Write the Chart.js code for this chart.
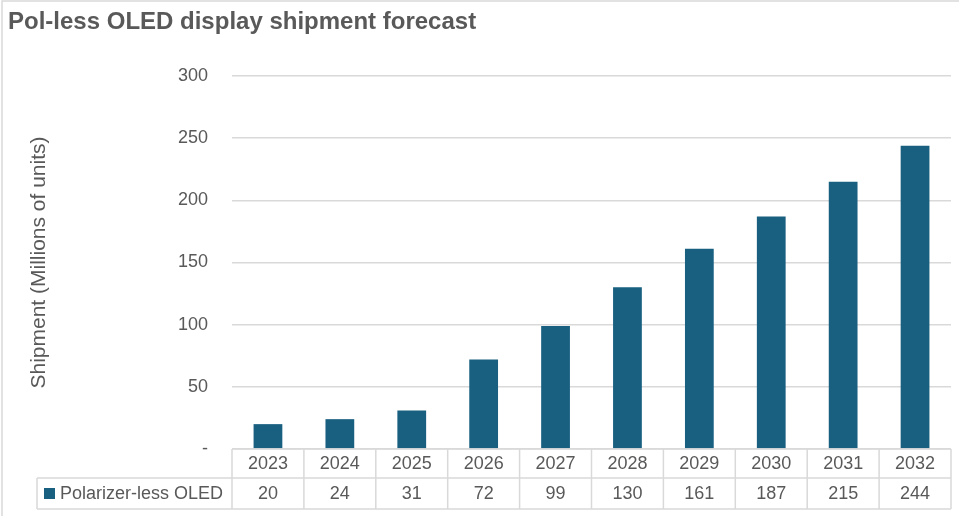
<!DOCTYPE html>
<html>
<head>
<meta charset="utf-8">
<title>Pol-less OLED display shipment forecast</title>
<script src="https://cdn.jsdelivr.net/npm/chart.js@4"></script>
<style>
  html, body { margin: 0; padding: 0; background: #fff; }
  canvas { display: block; }
</style>
</head>
<body>
<canvas id="chart" width="959" height="516"></canvas>
<script>
const years = ["2023", "2024", "2025", "2026", "2027", "2028", "2029", "2030", "2031", "2032"];
const shipments = [20, 24, 31, 72, 99, 130, 161, 187, 215, 244];
const yTicks = [0, 50, 100, 150, 200, 250, 300];

const seriesName = "Polarizer-less OLED";
const barColor = "#185f80";
const textColor = "#595959";
const lineColor = "#d9d9d9";
const fontFamily = "'Liberation Sans', Arial, sans-serif";

// title, frame and data table under the plot
const tablePlugin = {
  id: "tablePlugin",
  beforeDraw(chart) {
    const ctx = chart.ctx;
    ctx.save();
    ctx.fillStyle = "#fff";
    ctx.fillRect(0, 0, chart.width, chart.height);
    ctx.strokeStyle = lineColor;
    ctx.lineWidth = 1.5;
    ctx.beginPath();
    ctx.moveTo(2, chart.height);
    ctx.lineTo(2, 1);
    ctx.lineTo(chart.width, 1);
    ctx.stroke();
    ctx.restore();
  },
  afterDraw(chart) {
    const ctx = chart.ctx;
    const area = chart.chartArea;
    const x = chart.scales.x;
    const cell = (area.right - area.left) / years.length;
    const rowTop = area.bottom;
    const rowMid = rowTop + 29;
    const rowBot = rowMid + 31;
    const legendLeft = 37;

    ctx.save();
    // title
    ctx.fillStyle = textColor;
    ctx.font = "bold 24px " + fontFamily;
    ctx.textAlign = "left";
    ctx.textBaseline = "middle";
    ctx.fillText("Pol-less OLED display shipment forecast", 8, 22);

    // grid of the table
    ctx.strokeStyle = lineColor;
    ctx.lineWidth = 1.5;
    ctx.beginPath();
    ctx.moveTo(area.left, rowTop); ctx.lineTo(area.right, rowTop);
    ctx.moveTo(legendLeft, rowMid); ctx.lineTo(area.right, rowMid);
    ctx.moveTo(legendLeft, rowBot); ctx.lineTo(area.right, rowBot);
    ctx.moveTo(legendLeft, rowMid); ctx.lineTo(legendLeft, rowBot);
    for (let i = 0; i <= years.length; i++) {
      const cx = area.left + i * cell;
      ctx.moveTo(cx, rowTop); ctx.lineTo(cx, rowBot);
    }
    ctx.stroke();

    // cell text
    ctx.fillStyle = textColor;
    ctx.font = "18px " + fontFamily;
    ctx.textAlign = "center";
    years.forEach((yr, i) => {
      const cx = x.getPixelForValue(i);
      ctx.fillText(yr, cx, (rowTop + rowMid) / 2 + 1);
      ctx.fillText(String(shipments[i]), cx, (rowMid + rowBot) / 2 + 1);
    });

    // legend key
    ctx.fillStyle = barColor;
    ctx.fillRect(44, 488, 11, 11);
    ctx.fillStyle = textColor;
    ctx.textAlign = "left";
    ctx.fillText(seriesName, 60, (rowMid + rowBot) / 2 + 1);
    ctx.restore();
  }
};

new Chart("chart", {
  type: "bar",
  data: {
    labels: years,
    datasets: [{
      label: seriesName,
      data: shipments,
      backgroundColor: barColor,
      barPercentage: 0.4,
      categoryPercentage: 1
    }]
  },
  options: {
    responsive: false,
    animation: false,
    layout: {
      padding: { top: 76, bottom: 67, left: 0, right: 8 }
    },
    plugins: {
      legend: { display: false },
      title: { display: false },
      tooltip: { enabled: false }
    },
    scales: {
      x: {
        display: false
      },
      y: {
        min: 0,
        max: 300,
        afterBuildTicks(scale) {
          scale.ticks = yTicks.map(v => ({ value: v }));
        },
        afterFit(scale) {
          scale.width = 232;
        },
        border: { display: false },
        grid: { color: lineColor, lineWidth: 1.5, drawTicks: false },
        ticks: {
          color: textColor,
          font: { size: 18, family: fontFamily },
          padding: 24,
          callback: v => v === 0 ? "-" : v
        },
        title: {
          display: true,
          text: "Shipment (Millions of units)",
          color: textColor,
          font: { size: 21, family: fontFamily },
          padding: { top: 27, bottom: 0 }
        }
      }
    }
  },
  plugins: [tablePlugin]
});
</script>
</body>
</html>
